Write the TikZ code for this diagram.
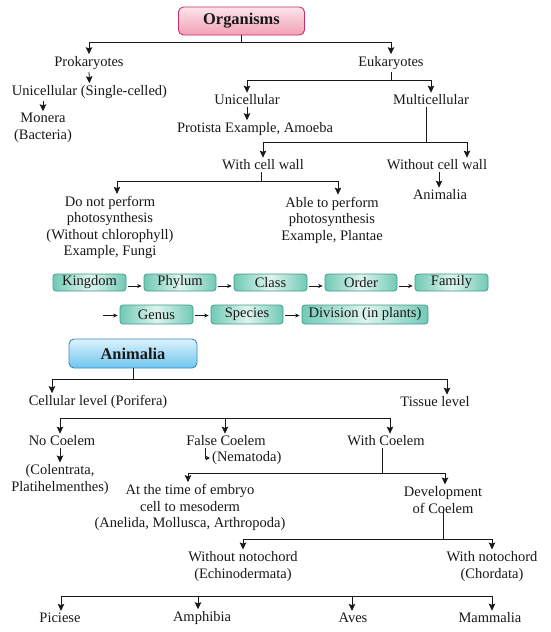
\documentclass[tikz,border=0pt]{standalone}
\usepackage{fontspec}
\setmainfont{Liberation Serif}
\usetikzlibrary{arrows.meta,calc}
\newcommand\myfs{\fontsize{14.5}{16.5}\selectfont}
\newcommand\mybf{\fontsize{16.4}{18}\selectfont\bfseries}
\definecolor{pinkA}{HTML}{FCE4EA}
\definecolor{pinkB}{HTML}{F2A0B4}
\definecolor{pinkD}{HTML}{C5306E}
\definecolor{blueA}{HTML}{DDF2FC}
\definecolor{blueB}{HTML}{6EC5EE}
\definecolor{blueD}{HTML}{3A8CC5}
\definecolor{tealE}{HTML}{72C9B6}
\definecolor{tealM}{HTML}{DDF4EE}
\definecolor{tealD}{HTML}{3E9A88}
\definecolor{ink}{HTML}{1A1718}
\begin{document}
\begin{tikzpicture}[x=1pt,y=-1pt,
 txt/.style={font=\myfs, text=ink, align=center, inner sep=2pt},
 ln/.style={line width=0.8pt, draw=ink},
 arr/.style={ln, -{Stealth[length=7pt,width=6.5pt,inset=1.2pt]}},
 titlebox/.style={rounded corners=5pt, line width=0.9pt, font=\mybf, text=ink},
 tax/.style={draw=tealD, line width=0.7pt, rounded corners=3pt, left color=tealE, right color=tealE, middle color=tealM, minimum height=17pt, font=\myfs, text=ink, inner sep=0pt},
 sarr/.style={line width=0.6pt, draw=ink, -{Stealth[length=4.5pt,width=4pt]}, shorten <=2pt, shorten >=2pt}
]
\useasboundingbox (0,0) rectangle (550,632);

% ---------- Organisms tree ----------
\node[titlebox, draw=pinkD, top color=pinkA, bottom color=pinkB, minimum width=126pt, minimum height=28pt] (org) at (241.5,21) {Organisms};
\node[txt] (prok) at (89,63) {Prokaryotes};
\node[txt] (euk) at (391,63) {Eukaryotes};
\coordinate (b1) at (0,42.5);
\draw[ln] (org.south) -- (org.south |- b1);
\draw[arr] (org.south |- b1) -| (prok.north);
\draw[arr] (org.south |- b1) -| (euk.north);

\node[txt] (uni1) at (89.5,92) {Unicellular (Single-celled)};
\draw[arr] (prok.south) -- (uni1.north);
\node[txt] (mon) at (43,128) {Monera\\(Bacteria)};
\draw[arr] (mon.north |- uni1.south) -- (mon.north);

\node[txt] (uni2) at (247,100) {Unicellular};
\node[txt] (multi) at (431,100) {Multicellular};
\coordinate (b2) at (0,80);
\draw[ln] (euk.south) -- (euk.south |- b2);
\draw[arr] (euk.south |- b2) -| (uni2.north);
\draw[arr] (euk.south |- b2) -| (multi.north);

\node[txt] (prot) at (255,129) {Protista Example, Amoeba};
\draw[arr] (uni2.south) -- (uni2.south |- prot.north);

\node[txt] (wcw) at (263,165) {With cell wall};
\node[txt] (wocw) at (437,165) {Without cell wall};
\coordinate (b3) at (0,142);
\coordinate (m3) at ([xshift=-5pt]multi.south);
\draw[ln] (m3) -- (m3 |- b3);
\draw[arr] (m3 |- b3) -| (wcw.north);
\draw[arr] (m3 |- b3) -| ([xshift=30pt]wocw.north);

\node[txt] (anim1) at (440,195) {Animalia};
\draw[arr] ([xshift=2pt]wocw.south) -- ([xshift=2pt]wocw.south |- anim1.north);

\node[txt] (nop) at (110,227.5) {Do not perform\\photosynthesis\\(Without chlorophyll)\\Example, Fungi};
\node[txt] (pho) at (332,220) {Able to perform\\photosynthesis\\Example, Plantae};
\coordinate (b4) at (0,181);
\coordinate (w4) at ([xshift=-2pt]wcw.south);
\draw[ln] (w4) -- (w4 |- b4);
\draw[arr] (w4 |- b4) -| ([xshift=7pt]nop.north);
\draw[arr] (w4 |- b4) -| ([xshift=6pt]pho.north);

% ---------- taxonomy chain ----------
\node[tax, minimum width=73pt] (k1) at (89.5,282.5) {Kingdom};
\node[tax, minimum width=72pt] (k2) at (180,282.5) {Phylum};
\node[tax, minimum width=73pt] (k3) at (270.5,282.5) {Class};
\node[tax, minimum width=72pt] (k4) at (361,282.5) {Order};
\node[tax, minimum width=73pt] (k5) at (451.5,282.5) {Family};
\draw[sarr] ([yshift=-3.5pt]k1.east) -- ([yshift=-3.5pt]k2.west);
\draw[sarr] ([yshift=-3.5pt]k2.east) -- ([yshift=-3.5pt]k3.west);
\draw[sarr] ([yshift=-3.5pt]k3.east) -- ([yshift=-3.5pt]k4.west);
\draw[sarr] ([yshift=-3.5pt]k4.east) -- ([yshift=-3.5pt]k5.west);
\node[tax, minimum width=73pt, minimum height=19pt] (k6) at (156.5,314.5) {Genus};
\node[tax, minimum width=72pt, minimum height=19pt] (k7) at (247,314.5) {Species};
\node[tax, minimum width=126pt, minimum height=19pt] (k8) at (365,314.5) {Division (in plants)};
\coordinate (r2s) at (101,315.5);
\draw[sarr] (r2s) -- (r2s -| k6.west);
\draw[sarr] ([yshift=-1pt]k6.east) -- ([yshift=-1pt]k7.west);
\draw[sarr] ([yshift=-1pt]k7.east) -- ([yshift=-1pt]k8.west);

% ---------- Animalia tree ----------
\node[titlebox, draw=blueD, top color=blueA, bottom color=blueB, minimum width=128pt, minimum height=29pt] (ani) at (133,353.5) {Animalia};
\node[txt] (cell) at (98,402) {Cellular level (Porifera)};
\node[txt] (tis) at (435,402) {Tissue level};
\coordinate (b5) at (0,379);
\draw[ln] (ani.south) -- (ani.south |- b5);
\draw[arr] (ani.south |- b5) -| ([xshift=-46pt]cell.north);
\draw[arr] (ani.south |- b5) -| ([xshift=12pt]tis.north);

\node[txt] (noc) at (62,441) {No Coelem};
\node[txt] (fc) at (226,441) {False Coelem};
\node[txt] (wc) at (386,441) {With Coelem};
\coordinate (b6) at (225,418);
\draw[arr] (b6) -| ([xshift=-2pt]noc.north);
\draw[arr] (b6) -| ([xshift=4pt]wc.north);
\draw[arr] (b6) -- (b6 |- fc.north);

\node[txt] (col) at (60,479.5) {(Colentrata,\\Platihelmenthes)};
\draw[arr] ([xshift=-2pt]noc.south) -- ([xshift=-2pt]noc.south |- col.north);

\node[txt, anchor=west] (nem) at (210,458) {(Nematoda)};
\draw[ln, -{Stealth[length=4.5pt,width=4.5pt]}] ([xshift=-21pt]fc.south) |- (nem.west);

\node[txt] (emb) at (190,507.5) {At the time of embryo\\cell to mesoderm\\(Anelida, Mollusca, Arthropoda)};
\node[txt] (dev) at (443,500) {Development\\of Coelem};
\coordinate (b7) at (0,473);
\coordinate (w7) at ([xshift=-4pt]wc.south);
\draw[ln] (w7) -- (w7 |- b7);
\draw[arr] (w7 |- b7) -| ([xshift=-2pt]emb.north);
\draw[arr] (w7 |- b7) -| ([xshift=2pt]dev.north);

\node[txt] (won) at (243,566.5) {Without notochord\\(Echinodermata)};
\node[txt] (wn) at (492,566.5) {With notochord\\(Chordata)};
\coordinate (b8) at (0,539);
\draw[ln] ([yshift=6pt]dev.south) -- (dev.south |- b8);
\draw[arr] (dev.south |- b8) -| (won.north);
\draw[arr] (dev.south |- b8) -| (wn.north);

\node[txt] (pic) at (60,618) {Piciese};
\node[txt] (amp) at (202,618) {Amphibia};
\node[txt] (ave) at (353,618) {Aves};
\node[txt] (mam) at (490,618) {Mammalia};
\coordinate (b9) at (0,596);
\draw[ln] ([xshift=1pt]pic.north |- b9) -- ([xshift=2pt]mam.north |- b9);
\draw[arr] ([xshift=1pt]pic.north |- b9) -- ([xshift=1pt]pic.north);
\draw[arr] ([xshift=-4pt]amp.north |- b9) -- ([xshift=-4pt]amp.north);
\draw[arr] ([xshift=-1pt]ave.north |- b9) -- ([xshift=-1pt]ave.north);
\draw[arr] ([xshift=2pt]mam.north |- b9) -- ([xshift=2pt]mam.north);
\end{tikzpicture}
\end{document}
